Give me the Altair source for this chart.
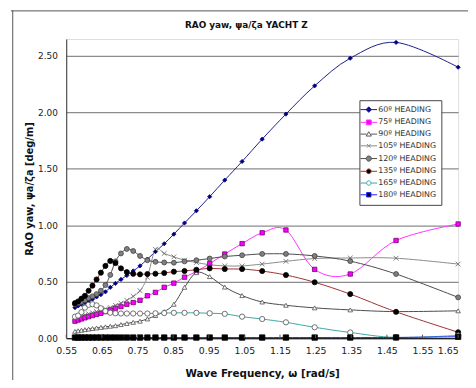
import altair as alt
import pandas as pd

# ---------------- data ----------------
freq = [0.5745, 0.5834, 0.5927, 0.6025, 0.6128, 0.6236, 0.6351, 0.6472, 0.6600, 0.6736,
        0.6881, 0.7036, 0.7201, 0.7379, 0.7571, 0.7778, 0.8004, 0.8250, 0.8521, 0.8820,
        0.9153, 0.9526, 0.9950, 1.0436, 1.1000, 1.1667, 1.2473, 1.3472, 1.4758, 1.6500]

headings = ["60º HEADING", "75º HEADING", "90º HEADING", "105º HEADING",
            "120º HEADING", "135º HEADING", "165º HEADING", "180º HEADING"]

h60 = [0.27, 0.285, 0.30, 0.315, 0.33, 0.345, 0.365, 0.385, 0.41, 0.45,
       0.485, 0.52, 0.555, 0.595, 0.64, 0.70, 0.766, 0.836, 0.921, 1.02,
       1.128, 1.253, 1.40, 1.565, 1.763, 1.985, 2.235, 2.48, 2.62, 2.40]
h75 = [0.15, 0.16, 0.17, 0.18, 0.19, 0.20, 0.21, 0.22, 0.235, 0.25,
       0.265, 0.28, 0.30, 0.315, 0.335, 0.375, 0.405, 0.45, 0.487, 0.54,
       0.59, 0.66, 0.745, 0.837, 0.933, 0.958, 0.609, 0.568, 0.865, 1.011]
h90 = [0.06, 0.065, 0.07, 0.075, 0.08, 0.085, 0.09, 0.095, 0.10, 0.105,
       0.11, 0.12, 0.13, 0.14, 0.15, 0.17, 0.20, 0.235, 0.30, 0.45,
       0.58, 0.545, 0.452, 0.377, 0.32, 0.291, 0.268, 0.25, 0.235, 0.242]
h105 = [0.175, 0.185, 0.195, 0.205, 0.215, 0.225, 0.235, 0.245, 0.258, 0.271,
        0.29, 0.31, 0.335, 0.37, 0.42, 0.54, 0.787, 0.75, 0.72, 0.69,
        0.67, 0.65, 0.64, 0.64, 0.656, 0.68, 0.705, 0.71, 0.708, 0.656]
h120 = [0.30, 0.31, 0.32, 0.335, 0.355, 0.37, 0.39, 0.42, 0.47, 0.56,
        0.68, 0.75, 0.79, 0.772, 0.728, 0.69, 0.676, 0.67, 0.668, 0.68,
        0.69, 0.705, 0.723, 0.734, 0.746, 0.746, 0.728, 0.682, 0.568, 0.361]
h135 = [0.31, 0.325, 0.35, 0.375, 0.42, 0.465, 0.52, 0.58, 0.64, 0.684,
        0.665, 0.618, 0.585, 0.57, 0.565, 0.568, 0.571, 0.577, 0.589, 0.595,
        0.606, 0.618, 0.612, 0.612, 0.594, 0.559, 0.495, 0.39, 0.233, 0.052]
h165 = [0.19, 0.20, 0.23, 0.27, 0.295, 0.30, 0.29, 0.265, 0.24, 0.225,
        0.22, 0.218, 0.218, 0.218, 0.218, 0.218, 0.22, 0.222, 0.224, 0.224,
        0.224, 0.22, 0.215, 0.19, 0.169, 0.14, 0.096, 0.05, 0.006, 0.024]
h180 = [0.005, 0.005, 0.005, 0.005, 0.005, 0.005, 0.005, 0.005, 0.005, 0.005,
        0.005, 0.005, 0.005, 0.005, 0.005, 0.005, 0.005, 0.005, 0.005, 0.005,
        0.005, 0.005, 0.005, 0.005, 0.005, 0.005, 0.005, 0.005, 0.006, 0.012]

series = [h60, h75, h90, h105, h120, h135, h165, h180]

x_ticks = [0.55, 0.65, 0.75, 0.85, 0.95, 1.05, 1.15, 1.25, 1.35, 1.45, 1.55, 1.65]
y_ticks = [0.0, 0.5, 1.0, 1.5, 2.0, 2.5]

chart_title = "RAO yaw, ψa/ζa YACHT Z"
x_title = "Wave Frequency, ω [rad/s]"
y_title = "RAO yaw, ψa/ζa [deg/m]"

# ---------------- styles ----------------
line_colors = ["#1c1c8c", "#ff33ff", "#4a4a4a", "#8a8a8a", "#4a4a4a", "#9c3030", "#3aa6a6", "#2020ff"]
mk_shapes = ["diamond", "square", "triangle-up", "M-1,-1L1,1M-1,1L1,-1",
             "circle", "circle", "circle", "square"]
mk_fill = ["#000080", "#ff00ff", "#ffffff", "transparent", "#808080", "#000000", "#ffffff", "#000000"]
mk_stroke = ["#000080", "#700070", "#505050", "#606060", "#404040", "#000000", "#505050", "#000000"]
mk_size = [18, 30, 22, 16, 38, 32, 26, 24]

lg_shapes = [
    "M-2.1,0H2.1M0,-0.7L0.7,0L0,0.7L-0.7,0Z",
    "M-2.1,0H-0.6M0.6,0H2.1M-0.6,-0.6H0.6V0.6H-0.6Z",
    "M-2.1,0H-0.55M0.55,0H2.1M0,-0.6L0.65,0.5L-0.65,0.5Z",
    "M-2.1,0H2.1M-0.45,-0.45L0.45,0.45M-0.45,0.45L0.45,-0.45",
    "M-2.1,0H-0.65M0.65,0H2.1M0.65,0A0.65,0.65 0 1,1 -0.65,0A0.65,0.65 0 1,1 0.65,0Z",
    "M-2.1,0H-0.6M0.6,0H2.1M0.6,0A0.6,0.6 0 1,1 -0.6,0A0.6,0.6 0 1,1 0.6,0Z",
    "M-2.1,0H-0.55M0.55,0H2.1M0.55,0A0.55,0.55 0 1,1 -0.55,0A0.55,0.55 0 1,1 0.55,0Z",
    "M-2.1,0H-0.55M0.55,0H2.1M-0.55,-0.55H0.55V0.55H-0.55Z",
]
lg_fill = ["#000080", "#ff00ff", "#ffffff", "transparent", "#808080", "#000000", "#ffffff", "#000000"]
lg_stroke = ["#1c1c8c", "#ff33ff", "#555555", "#888888", "#4a4a4a", "#9c3030", "#3aa6a6", "#2020ff"]

rows = []
for name, vals in zip(headings, series):
    for f, v in zip(freq, vals):
        rows.append({"freq": f, "value": v, "heading": name})
df = pd.DataFrame(rows)
legend_df = pd.DataFrame({"heading": headings})
ticks_df = pd.DataFrame({"t": x_ticks})

FONT = "DejaVu Sans"
W, H = 397, 303

xscale = alt.Scale(domain=[0.55, 1.65], nice=False, zero=False)
yscale = alt.Scale(domain=[0, 2.65], nice=False)

x_axis = alt.Axis(values=x_ticks, format=".2f", grid=False, tickSize=0,
                  labelOverlap=False, labelFlush=False, labelPadding=8, labelFont=FONT,
                  labelAlign={"condition": {"test": "datum.value > 1.6", "value": "right"},
                              "value": "center"},
                  labelFontSize=9.5, labelColor="#1a1a1a", domainColor="#222222",
                  domainWidth=1.2, title=x_title, titleFont=FONT,
                  titleFontSize=10.5, titleFontWeight="bold", titleColor="#111111",
                  titlePadding=13)
y_axis = alt.Axis(values=y_ticks, format=".2f", grid=True, gridColor="#8c8c8c",
                  gridWidth=1.2, tickSize=0, labelPadding=9, labelFont=FONT,
                  labelFontSize=9, labelColor="#1a1a1a", domainColor="#333333",
                  title=y_title, titleFont=FONT, titleFontSize=10,
                  titleFontWeight="bold", titleColor="#111111", titlePadding=3)

lines = alt.Chart(df).mark_line(strokeWidth=1, interpolate="cardinal", tension=0).encode(
    x=alt.X("freq:Q", scale=xscale, axis=x_axis),
    y=alt.Y("value:Q", scale=yscale, axis=y_axis),
    color=alt.Color("heading:N", scale=alt.Scale(domain=headings, range=line_colors), legend=None),
    order=alt.Order("freq:Q"),
)

points = alt.Chart(df).mark_point(filled=True, strokeWidth=0.8, opacity=1).encode(
    x=alt.X("freq:Q", scale=xscale, axis=x_axis),
    y=alt.Y("value:Q", scale=yscale, axis=y_axis),
    shape=alt.Shape("heading:N", scale=alt.Scale(domain=headings, range=mk_shapes), legend=None),
    fill=alt.Fill("heading:N", scale=alt.Scale(domain=headings, range=mk_fill), legend=None),
    stroke=alt.Stroke("heading:N", scale=alt.Scale(domain=headings, range=mk_stroke), legend=None),
    size=alt.Size("heading:N", scale=alt.Scale(domain=headings, range=mk_size), legend=None),
)

legend = alt.Legend(
    title=None, orient="none", legendX=297, legendY=62,
    fillColor="#ffffff", strokeColor="#444444", padding=5,
    symbolSize=64, symbolStrokeWidth=1, symbolFillColor="#ffffff", symbolOpacity=1,
    labelFont=FONT, labelFontSize=8, labelColor="#333333", rowPadding=2.9,
    labelOffset=5, labelLimit=200,
)

legend_layer = alt.Chart(legend_df).mark_point(filled=True, opacity=0).encode(
    x=alt.value(0), y=alt.value(0),
    shape=alt.Shape("heading:N", scale=alt.Scale(domain=headings, range=lg_shapes), legend=legend),
    fill=alt.Fill("heading:N", scale=alt.Scale(domain=headings, range=lg_fill), legend=legend),
    stroke=alt.Stroke("heading:N", scale=alt.Scale(domain=headings, range=lg_stroke), legend=legend),
)

xticks = alt.Chart(ticks_df).mark_rule(color="#555555", strokeWidth=1).encode(
    x=alt.X("t:Q", scale=xscale, axis=x_axis), y=alt.value(H), y2=alt.value(H - 3.5))

frame_top = alt.Chart(alt.Data(values=[{}])).mark_rule(color="#555555", strokeWidth=1).encode(
    x=alt.value(-56), x2=alt.value(W + 20), y=alt.value(-28.5))
frame_left = alt.Chart(alt.Data(values=[{}])).mark_rule(color="#555555", strokeWidth=1).encode(
    x=alt.value(-54.2), y=alt.value(-29), y2=alt.value(H + 60))

title_text = alt.Chart(alt.Data(values=[{}])).mark_text(
    text=chart_title, font=FONT, fontSize=9, fontWeight="bold", color="#111111",
    align="center", baseline="middle"
).encode(x=alt.value(W / 2 - 16), y=alt.value(-14.5))

chart = alt.layer(frame_top, frame_left, title_text, lines, points, xticks, legend_layer).resolve_scale(
    shape="independent", fill="independent", stroke="independent"
).properties(
    width=W, height=H,
    autosize=alt.AutoSizeParams(type="none"),
    padding={"left": 59, "top": 29, "right": 10, "bottom": 40},
).configure_view(stroke=None).configure_axisX(labelOverlap=False).configure(background="#ffffff")

chart.save("out.html", embed_options={"renderer": "svg", "actions": False})
